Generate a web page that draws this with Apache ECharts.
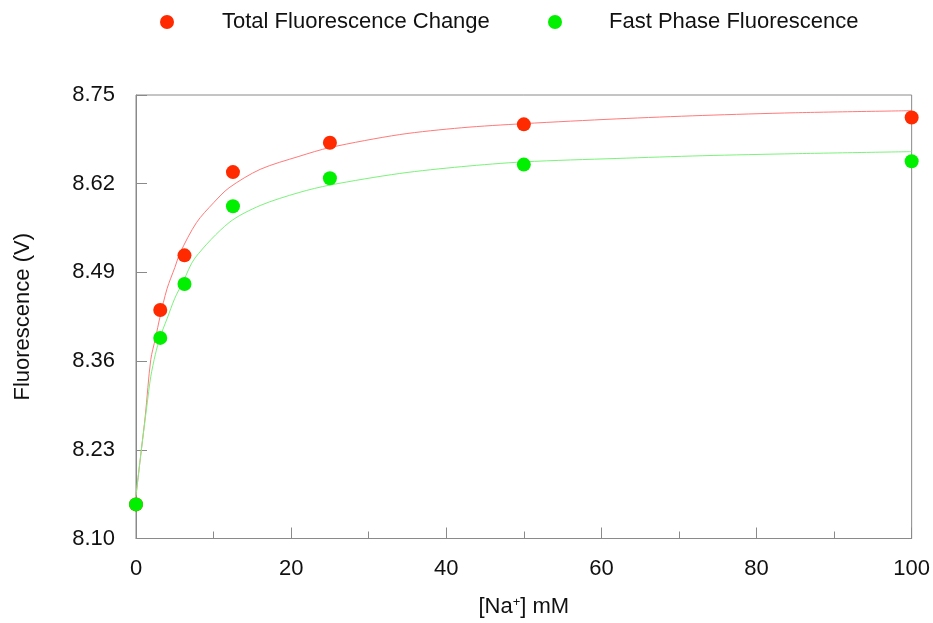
<!DOCTYPE html>
<html>
<head>
<meta charset="utf-8">
<script src="https://cdn.jsdelivr.net/npm/echarts@6/dist/echarts.min.js"></script>
<style>html,body{margin:0;padding:0;background:#fff}#c{width:933px;height:623px}</style>
</head>
<body>
<div id="c"></div>
<script>
// Measured points
var xPoints = [0, 3.125, 6.25, 12.5, 25, 50, 100];
var totalPts = [8.150, 8.435, 8.515, 8.637, 8.680, 8.707, 8.717];
var fastPts = [8.150, 8.394, 8.473, 8.587, 8.628, 8.648, 8.653];

// Fitted curves
var totalCurveX = [0, 0.7, 1.2, 1.9, 2.5, 3.1, 4, 5, 5.7, 7.8, 10, 12, 16, 21, 25, 34, 42, 50, 62, 73, 85, 100];
var totalCurveY = [8.163, 8.231, 8.280, 8.362, 8.393, 8.425, 8.466, 8.497, 8.519, 8.563, 8.592, 8.614, 8.641, 8.660, 8.673, 8.692, 8.702, 8.708, 8.715, 8.720, 8.724, 8.727];
var fastCurveX = [0, 0.7, 1.4, 1.9, 2.5, 3.1, 4, 5, 6.1, 7.6, 12, 16, 21, 25, 34, 42, 50, 62, 73, 85, 100];
var fastCurveY = [8.163, 8.231, 8.294, 8.337, 8.370, 8.395, 8.422, 8.452, 8.477, 8.511, 8.563, 8.588, 8.607, 8.618, 8.635, 8.645, 8.652, 8.657, 8.661, 8.664, 8.667];

var yTicks = [8.10, 8.23, 8.36, 8.49, 8.62, 8.75];
var xTicks = [0, 20, 40, 60, 80, 100];

var seriesNames = ['Total Fluorescence Change', 'Fast Phase Fluorescence'];

function pairs(xs, ys) { return xs.map(function (x, i) { return [x, ys[i]]; }); }

var FONT = 'Arial, "Liberation Sans", sans-serif';
var axisColor = '#8a8a8a';

var chart = echarts.init(document.getElementById('c'));
chart.setOption({
  animation: false,
  backgroundColor: '#fff',
  textStyle: { fontFamily: FONT },
  grid: { left: 136, right: 20, top: 95, bottom: 80, show: true, borderColor: axisColor, borderWidth: 1 },
  legend: [
    {
      data: [seriesNames[0]], left: 160, top: 11, padding: 0, icon: 'circle', itemWidth: 14, itemHeight: 14,
      textStyle: { fontSize: 22, color: '#111', fontFamily: FONT, padding: [3, 0, 0, 43] }
    },
    {
      data: [seriesNames[1]], left: 548, top: 11, padding: 0, icon: 'circle', itemWidth: 14, itemHeight: 14,
      textStyle: { fontSize: 22, color: '#111', fontFamily: FONT, padding: [3, 0, 0, 42] }
    }
  ],
  xAxis: {
    type: 'value', min: 0, max: 100, interval: 20,
    name: '[Na{sup|+}] mM', nameLocation: 'middle', nameGap: 57,
    nameTextStyle: { fontSize: 22, color: '#111', fontFamily: FONT,
      rich: { sup: { fontSize: 13, padding: [0, 0, 10, 0], color: '#111', fontFamily: FONT } } },
    axisLine: { show: true, lineStyle: { color: axisColor, width: 1 } },
    axisTick: { show: true, inside: true, length: 11, lineStyle: { color: axisColor } },
    minorTick: { show: true, splitNumber: 2, length: 7, lineStyle: { color: axisColor } },
    axisLabel: { fontSize: 22, color: '#111', margin: 19, fontFamily: FONT,
      customValues: xTicks },
    splitLine: { show: false }, minorSplitLine: { show: false }
  },
  yAxis: {
    type: 'value', min: 8.10, max: 8.75,
    name: 'Fluorescence (V)', nameLocation: 'middle', nameGap: 102, nameRotate: 90,
    nameTextStyle: { fontSize: 22, color: '#111', fontFamily: FONT },
    axisLine: { show: true, lineStyle: { color: axisColor, width: 1 } },
    axisTick: { show: true, inside: true, length: 11, lineStyle: { color: axisColor }, customValues: yTicks },
    axisLabel: { fontSize: 22, color: '#111', margin: 21, fontFamily: FONT, customValues: yTicks,
      formatter: function (v) { return v.toFixed(2); } },
    splitLine: { show: false }
  },
  series: [
    { name: 'totalFit', type: 'line', data: pairs(totalCurveX, totalCurveY), showSymbol: false, smooth: 0.3,
      lineStyle: { color: '#ff7a7a', width: 1 }, itemStyle: { color: '#ff7a7a' }, z: 1, silent: true },
    { name: 'fastFit', type: 'line', data: pairs(fastCurveX, fastCurveY), showSymbol: false, smooth: 0.3,
      lineStyle: { color: '#7cf27c', width: 1 }, itemStyle: { color: '#7cf27c' }, z: 1, silent: true },
    { name: seriesNames[0], type: 'scatter', data: pairs(xPoints, totalPts), symbolSize: 14,
      itemStyle: { color: '#ff2a00', opacity: 1 }, z: 3 },
    { name: seriesNames[1], type: 'scatter', data: pairs(xPoints, fastPts), symbolSize: 14,
      itemStyle: { color: '#00f000', opacity: 1 }, z: 4 }
  ]
});
</script>
</body>
</html>
